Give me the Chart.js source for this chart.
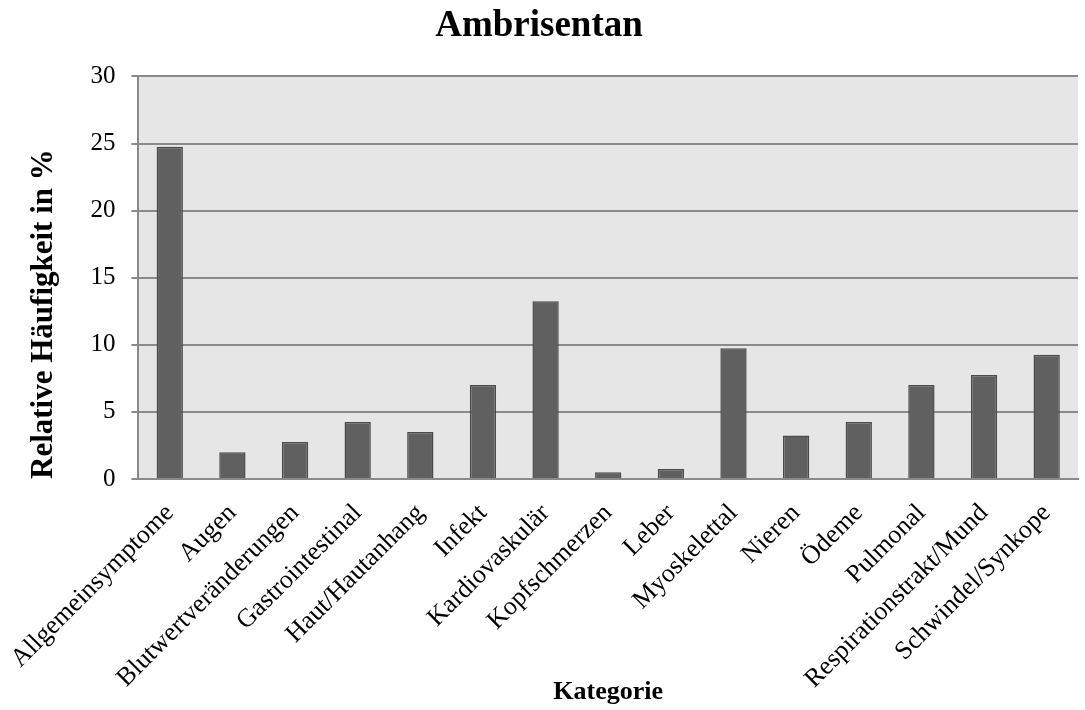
<!DOCTYPE html>
<html>
<head>
<meta charset="utf-8">
<script src="https://cdn.jsdelivr.net/npm/chart.js@4/dist/chart.umd.min.js"></script>
<style>
  body { margin: 0; background: #fff; }
  #wrap { width: 1085px; height: 710px; position: relative; }
</style>
</head>
<body>
<div id="wrap"><canvas id="ambriChart"></canvas></div>
<script>
const categories = [
  "Allgemeinsymptome", "Augen", "Blutwertveränderungen", "Gastrointestinal",
  "Haut/Hautanhang", "Infekt", "Kardiovaskulär", "Kopfschmerzen", "Leber",
  "Myoskelettal", "Nieren", "Ödeme", "Pulmonal", "Respirationstrakt/Mund",
  "Schwindel/Synkope"
];
const relFreq = [24.75, 2.0, 2.75, 4.25, 3.5, 7.0, 13.25, 0.5, 0.75, 9.75, 3.25, 4.25, 7.0, 7.75, 9.25];
const yTicks = [0, 5, 10, 15, 20, 25, 30];

const serif = "'Liberation Serif', 'Times New Roman', serif";
const gridGray = "#8a8a8a";

// grauer Hintergrund nur im Plotbereich
const plotBg = {
  id: "plotBg",
  beforeDraw(chart) {
    const { ctx, chartArea: a } = chart;
    ctx.save();
    ctx.fillStyle = "#e6e6e6";
    ctx.fillRect(a.left, a.top, a.right - a.left, a.bottom - a.top);
    ctx.restore();
  }
};

new Chart(document.getElementById("ambriChart"), {
  type: "bar",
  data: {
    labels: categories,
    datasets: [{
      label: "Relative Häufigkeit in %",
      data: relFreq,
      backgroundColor: "#606060",
      borderColor: "#4a4a4a",
      borderWidth: 1.5,
      barPercentage: 0.42,
      categoryPercentage: 1.0
    }]
  },
  options: {
    responsive: true,
    maintainAspectRatio: false,
    animation: false,
    layout: { padding: { left: 0, right: 7, top: 0, bottom: 0 } },
    plugins: {
      legend: { display: false },
      tooltip: { enabled: false },
      title: {
        display: true,
        text: "Ambrisentan",
        color: "#000",
        font: { family: serif, size: 37, weight: "bold" },
        padding: { top: 4, bottom: 28 }
      }
    },
    scales: {
      x: {
        grid: { display: false },
        border: { display: true, color: gridGray, width: 2 },
        ticks: {
          color: "#000",
          font: { family: serif, size: 26 },
          maxRotation: 45,
          minRotation: 45,
          autoSkip: false,
          padding: 11
        },
        title: {
          display: true,
          text: "Kategorie",
          color: "#000",
          font: { family: serif, size: 26, weight: "bold" },
          padding: { top: 0, bottom: 2 }
        },
        afterFit(scale) { scale.height = 231; }
      },
      y: {
        min: 0,
        max: 30,
        afterBuildTicks(scale) { scale.ticks = yTicks.map(v => ({ value: v })); },
        grid: { color: gridGray, lineWidth: 2, tickLength: 7, drawTicks: true },
        border: { display: true, color: gridGray, width: 2 },
        ticks: {
          color: "#000",
          font: { family: serif, size: 25 },
          padding: 16
        },
        title: {
          display: true,
          text: "Relative Häufigkeit in %",
          align: "start",
          color: "#000",
          font: { family: serif, size: 31, weight: "bold" },
          padding: { top: 24, bottom: 0 }
        },
        afterFit(scale) { scale.width = 137; }
      }
    }
  },
  plugins: [plotBg]
});
</script>
</body>
</html>
